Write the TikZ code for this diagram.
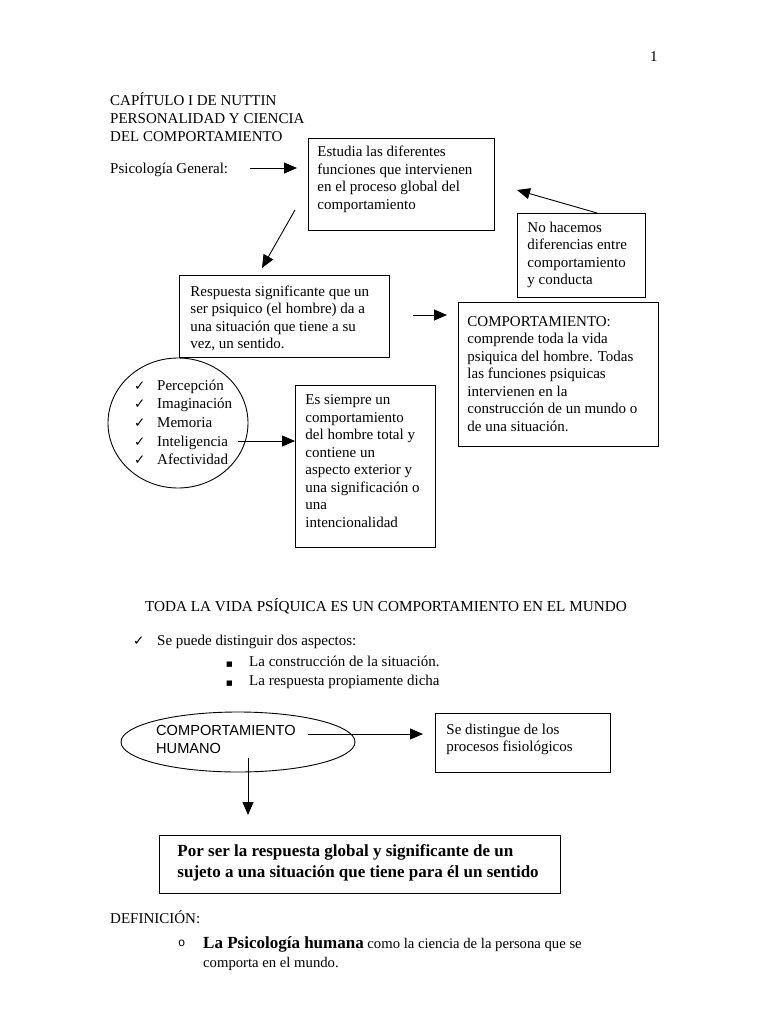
\documentclass[tikz,border=0pt]{standalone}
\usepackage{fontspec}
\setmainfont{Liberation Serif}
\newfontfamily\sansf{Liberation Sans}
\newfontfamily\symf{DejaVu Sans}
\newfontfamily\monof{Liberation Mono}
\usetikzlibrary{arrows.meta,shapes.geometric}
\newcommand{\boxtext}[4]{\parbox[c][#2][t]{#1}{\raggedright\baselineskip=17.5pt\rule{0pt}{#3}#4}}
\newcommand{\chk}{{\symf\fontsize{13.5}{13.5}\selectfont ✓}}
\begin{document}
\begin{tikzpicture}[x=1pt,y=-1pt,
  body/.style={font=\fontsize{15}{18}\selectfont, anchor=base west, inner sep=0pt},
  small/.style={font=\fontsize{14.7}{17}\selectfont, anchor=base west, inner sep=0pt},
  sansline/.style={font=\sansf\fontsize{14.6}{17}\selectfont, anchor=base west, inner sep=0pt},
  bx/.style={draw, line width=0.9pt, anchor=north west, inner ysep=0pt, font=\fontsize{15}{17.5}\selectfont},
  ell/.style={draw, line width=0.9pt, ellipse, inner sep=0pt},
  arr/.style={-{Triangle[length=13pt,width=11pt]}, line width=0.9pt}]
\fill[white] (0,0) rectangle (768,1024);
\useasboundingbox (0,0) rectangle (768,1024);

% page number and title
\node[body] (pn) at (650,62) {1};
\node[body] (t1) at (110,106) {CAPÍTULO I DE NUTTIN};
\node[body] (t2) at (110,124) {PERSONALIDAD Y CIENCIA};
\node[body] (t3) at (110,142) {DEL COMPORTAMIENTO};
\node[body] (pg) at (110,174) {Psicología General:};

% boxes
\node[bx, inner xsep=9pt] (b1) at (308,138)
  {\boxtext{168pt}{92pt}{18.5pt}{Estudia las diferentes\\funciones que intervienen\\en el proceso global del\\comportamiento}};
\node[bx, inner xsep=11pt] (b2) at (179,275)
  {\boxtext{188pt}{82pt}{21pt}{Respuesta significante que un\\ser psiquico (el hombre) da a\\una situación que tiene a su\\vez, un sentido.}};
\node[bx, inner xsep=10pt] (bn) at (517,213)
  {\boxtext{108pt}{84pt}{19pt}{No hacemos\\diferencias entre\\comportamiento\\y conducta}};
\node[bx, inner xsep=9pt] (bc) at (458,302)
  {\boxtext{182pt}{144pt}{24pt}{COMPORTAMIENTO:\\comprende toda la vida\\psiquica del hombre. Todas\\las funciones psiquicas\\intervienen en la\\construcción de un mundo o\\de una situación.}};
\node[bx, inner xsep=10pt] (b3) at (295,385)
  {\boxtext{120pt}{162pt}{19.5pt}{Es siempre un\\comportamiento\\del hombre total y\\contiene un\\aspecto exterior y\\una significación o\\una\\intencionalidad}};

% ellipse with list
\node[ell, minimum width=140pt, minimum height=130pt] (e1) at (178,423) {};
\foreach \t [count=\i from 0] in {Percepción,Imaginación,Memoria,Inteligencia,Afectividad}{
  \node[body] at (157,390+18.7*\i) {\t};
  \node[anchor=base west, inner sep=0pt] at (134,390+18.7*\i) {\chk};
}

% arrows in upper part
\coordinate (pgA) at (250,168);
\coordinate (pgB) at (297,168);
\draw[arr] (pgA) -- (pgB);
\coordinate (dA) at (295,210);
\coordinate (dB) at (262,268);
\draw[arr] (dA) -- (dB);
\coordinate (nA) at (597,213);
\coordinate (nB) at (517,190);
\draw[arr] (nA) -- (nB);
\coordinate (cA) at (413,315);
\coordinate (cB) at (447,315);
\draw[arr] (cA) -- (cB);
\coordinate (s3) at (238,441);
\draw[arr] (s3) -- (s3 -| b3.west);

% middle text
\node[font=\fontsize{15.2}{18}\selectfont, anchor=base west, inner sep=0pt] (toda) at (145,611) {TODA LA VIDA PSÍQUICA ES UN COMPORTAMIENTO EN EL MUNDO};
\node[anchor=base west, inner sep=0pt] at (133,645) {\chk};
\node[body] (dos) at (157,645) {Se puede distinguir dos aspectos:};
\node[anchor=base west, inner sep=0pt] at (226,666) {\symf\fontsize{7}{7}\selectfont ■};
\node[body] (l1) at (249,666) {La construcción de la situación.};
\node[anchor=base west, inner sep=0pt] at (226,685) {\symf\fontsize{7}{7}\selectfont ■};
\node[body] (l2) at (249,685) {La respuesta propiamente dicha};

% lower diagram
\node[ell, minimum width=234pt, minimum height=60pt] (e2) at (238,742) {};
\node[sansline] at (156,735) {COMPORTAMIENTO};
\node[sansline] at (156,753) {HUMANO};
\node[bx, inner xsep=11pt] (b4) at (435,713)
  {\boxtext{153pt}{59pt}{21pt}{Se distingue de los\\procesos fisiológicos}};
\coordinate (s4) at (308,734);
\coordinate (t4) at (423,734);
\draw[arr] (s4) -- (t4);
\coordinate (s5) at (248,758);
\coordinate (t5) at (248,815);
\draw[arr] (s5) -- (t5);
\node[bx, inner xsep=18pt, font=\bfseries\fontsize{17}{21}\selectfont] (b5) at (159,835)
  {\parbox[c][58pt][t]{365pt}{\raggedright\rule{0pt}{21pt}Por ser la respuesta global y significante de un\\\mbox{sujeto a una situación que tiene para él un sentido}}};

% definition
\node[body] (def) at (110,923) {DEFINICIÓN:};
\node[anchor=base west, inner sep=0pt] at (178,946) {\monof\fontsize{12}{12}\selectfont o};
\node[anchor=base west, inner sep=0pt] (ps) at (203,948)
  {{\bfseries\fontsize{17}{20}\selectfont La Psicología humana}{\fontsize{14.7}{17}\selectfont{} como la ciencia de la persona que se}};
\node[small] (cm) at (203,967) {comporta en el mundo.};
\end{tikzpicture}
\end{document}
